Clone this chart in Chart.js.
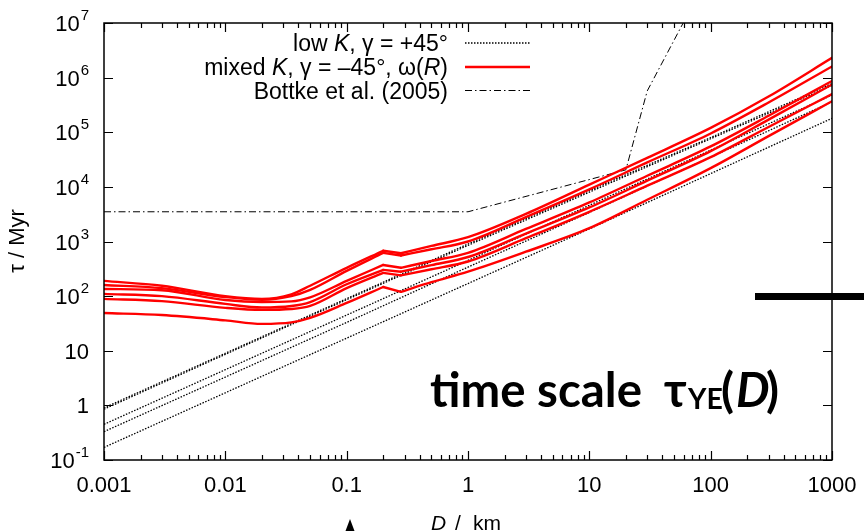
<!DOCTYPE html>
<html>
<head>
<meta charset="utf-8">
<script src="https://cdn.jsdelivr.net/npm/chart.js@4.4.0/dist/chart.umd.min.js"></script>
<style>
  html, body { margin: 0; padding: 0; background: #fff; }
  canvas { display: block; }
</style>
</head>
<body>
<canvas id="tauChart" width="864" height="532"></canvas>
<script>
const redD = [0.001, 0.003, 0.01, 0.02, 0.035, 0.05, 0.1, 0.2, 0.28, 0.5, 1, 3, 10, 30, 100, 300, 1000];
// mixed K, gamma = -45 deg, omega(R)  (tau in Myr)
const red1 = [190, 155, 100, 89, 108, 155, 330, 676, 610, 830, 1200, 3200, 11000, 34000, 120000, 450000, 2300000];
const red2 = [160, 140, 96, 86, 100, 130, 290, 620, 555, 720, 1000, 2800, 9000, 28000, 95000, 350000, 1600000];
const red3 = [135, 128, 85, 78, 80, 95, 190, 372, 330, 440, 620, 1700, 5200, 16000, 55000, 200000, 870000];
const red4 = [110, 100, 72, 62, 66, 78, 165, 302, 280, 370, 520, 1400, 4200, 13000, 45000, 170000, 750000];
const red5 = [89, 81, 61, 56, 58, 66, 140, 266, 240, 310, 430, 1150, 3500, 10500, 35000, 125000, 500000];
const red6 = [49, 45, 36, 31, 33, 40, 75, 147, 120, 180, 280, 650, 1750, 5800, 22000, 85000, 370000];
// index of the two kinks in redD (0.2 and 0.28 km)
const kinkA = 7;
const kinkB = 8;

// low K, gamma = +45 deg
const lowD = [0.001, 0.01, 0.1, 1, 10, 100, 1000];
const low1 = [0.9, 9, 90, 900, 8500, 80000, 780000];
const low2 = [0.85, 8.6, 86, 850, 8000, 76000, 720000];
const low3 = [0.45, 4.5, 45, 450, 4600, 47000, 480000];
const low4 = [0.33, 3.3, 33, 340, 3400, 35000, 360000];
const low5 = [0.17, 1.7, 17, 170, 1700, 17500, 180000];

// Bottke et al. (2005)
const bottkeD = [0.001, 1, 20, 30, 70];
const bottkeTau = [3500, 3500, 20500, 570000, 20000000];

// axis ticks
const xTickValues = [0.001, 0.01, 0.1, 1, 10, 100, 1000];
const xTickLabels = ['0.001', '0.01', '0.1', '1', '10', '100', '1000'];
const yTickValues = [0.1, 1, 10, 100, 1000, 10000, 100000, 1000000, 10000000];
const yTickBase = ['10', '1', '10', '10', '10', '10', '10', '10', '10'];
const yTickExp = ['-1', '', '', '2', '3', '4', '5', '6', '7'];

const SANS = '"Liberation Sans", Arial, Helvetica, sans-serif';
const RED = '#ff0000';

function pts(xs, ys, from, to) {
  const out = [];
  for (let i = from; i <= to; i++) out.push({ x: xs[i], y: ys[i] });
  return out;
}

const datasets = [];
[red1, red2, red3, red4, red5, red6].forEach(r => {
  // smooth piece, straight kink piece, smooth piece
  const pieces = [[0, kinkA, true], [kinkA, kinkB, false], [kinkB, redD.length - 1, true]];
  pieces.forEach(p => {
    datasets.push({
      data: pts(redD, r, p[0], p[1]),
      borderColor: RED,
      borderWidth: 2.4,
      borderCapStyle: 'round',
      cubicInterpolationMode: p[2] ? 'monotone' : 'default',
      tension: 0
    });
  });
});
[low1, low2, low3, low4, low5].forEach(l => {
  datasets.push({
    data: pts(lowD, l, 0, lowD.length - 1),
    borderColor: '#000',
    borderWidth: 1.3,
    borderDash: [1.5, 1.5]
  });
});
datasets.push({
  data: pts(bottkeD, bottkeTau, 0, bottkeD.length - 1),
  borderColor: '#000',
  borderWidth: 1,
  borderDash: [7, 3, 1.5, 3]
});

// draw a run of text pieces (some italic)
function richWidth(ctx, parts, size) {
  let w = 0;
  parts.forEach(p => {
    ctx.font = (p.it ? 'italic ' : '') + size + 'px ' + SANS;
    w += ctx.measureText(p.t).width;
  });
  return w;
}
function drawRich(ctx, parts, x, y, size) {
  parts.forEach(p => {
    ctx.font = (p.it ? 'italic ' : '') + size + 'px ' + SANS;
    ctx.fillText(p.t, x, y);
    x += ctx.measureText(p.t).width;
  });
}

const legendRows = [
  { parts: [{ t: 'low ' }, { t: 'K', it: true }, { t: ', γ = +45°' }], kind: 'dot' },
  { parts: [{ t: 'mixed ' }, { t: 'K', it: true }, { t: ', γ = –45°, ω(' }, { t: 'R', it: true }, { t: ')' }], kind: 'red' },
  { parts: [{ t: 'Bottke et al. (2005)' }], kind: 'dashdot' }
];

const framePlugin = {
  id: 'gnuplotFrame',
  afterDatasetsDraw(chart) {
    const ctx = chart.ctx;
    const a = chart.chartArea;
    const xs = chart.scales.x;
    const ys = chart.scales.y;
    ctx.save();
    ctx.strokeStyle = '#000';
    ctx.lineWidth = 1.5;
    ctx.strokeRect(a.left, a.top, a.right - a.left, a.bottom - a.top);

    // inward ticks on all four sides
    ctx.lineWidth = 1.2;
    ctx.beginPath();
    xTickValues.forEach(v => {
      const px = Math.round(xs.getPixelForValue(v)) + 0.5;
      ctx.moveTo(px, a.bottom); ctx.lineTo(px, a.bottom - 9);
      ctx.moveTo(px, a.top); ctx.lineTo(px, a.top + 9);
      if (v < 1000) {
        for (let m = 2; m <= 9; m++) {
          const q = Math.round(xs.getPixelForValue(v * m)) + 0.5;
          ctx.moveTo(q, a.bottom); ctx.lineTo(q, a.bottom - 5);
          ctx.moveTo(q, a.top); ctx.lineTo(q, a.top + 5);
        }
      }
    });
    yTickValues.forEach(v => {
      const py = Math.round(ys.getPixelForValue(v)) + 0.5;
      ctx.moveTo(a.left, py); ctx.lineTo(a.left + 9, py);
      ctx.moveTo(a.right, py); ctx.lineTo(a.right - 9, py);
    });
    ctx.stroke();

    // tick labels
    ctx.fillStyle = '#000';
    ctx.textBaseline = 'alphabetic';
    ctx.font = '22px ' + SANS;
    ctx.textAlign = 'center';
    xTickValues.forEach((v, i) => {
      ctx.fillText(xTickLabels[i], xs.getPixelForValue(v), 492);
    });
    ctx.textAlign = 'left';
    yTickValues.forEach((v, i) => {
      const py = ys.getPixelForValue(v);
      ctx.font = '22px ' + SANS;
      const wb = ctx.measureText(yTickBase[i]).width;
      ctx.font = '15px ' + SANS;
      const we = yTickExp[i] ? ctx.measureText(yTickExp[i]).width + 1 : 0;
      const x0 = 89 - wb - we;
      ctx.font = '22px ' + SANS;
      ctx.fillText(yTickBase[i], x0, py + 8);
      if (yTickExp[i]) {
        ctx.font = '15px ' + SANS;
        ctx.fillText(yTickExp[i], x0 + wb + 1, py - 3);
      }
    });

    // axis titles
    ctx.font = 'italic 21px ' + SANS;
    ctx.fillText('D', 431, 530);
    ctx.font = '21px ' + SANS;
    ctx.fillText('/', 455, 530);
    ctx.fillText('km', 473, 530);
    ctx.save();
    ctx.translate(24, 241);
    ctx.rotate(-Math.PI / 2);
    const yt = [{ t: 'τ / Myr' }];
    const wy = richWidth(ctx, yt, 22);
    drawRich(ctx, yt, -wy / 2, 0, 22);
    ctx.restore();

    // key, gnuplot style: text right aligned, sample to the right
    const rowY = [43, 67, 90.5];
    legendRows.forEach((row, i) => {
      const w = richWidth(ctx, row.parts, 23);
      drawRich(ctx, row.parts, 448 - w, rowY[i] + 8, 23);
      ctx.beginPath();
      if (row.kind === 'dot') {
        ctx.strokeStyle = '#000'; ctx.lineWidth = 1.3; ctx.setLineDash([1.5, 1.5]);
      } else if (row.kind === 'red') {
        ctx.strokeStyle = RED; ctx.lineWidth = 2.4; ctx.setLineDash([]);
      } else {
        ctx.strokeStyle = '#000'; ctx.lineWidth = 1; ctx.setLineDash([7, 3, 1.5, 3]);
      }
      ctx.moveTo(465, rowY[i]); ctx.lineTo(530, rowY[i]);
      ctx.stroke();
    });
    ctx.setLineDash([]);

    // slide overlay: caption, bar and pointer
    const fam = 'Lato, "DejaVu Sans", sans-serif';
    ctx.font = 'bold 100px ' + fam;
    const size = 100 * 212 / ctx.measureText('time scale').width;
    const base = 407;
    ctx.fillStyle = '#000';
    ctx.font = 'bold ' + size + 'px ' + fam;
    ctx.fillText('time scale', 430, base);
    ctx.fillText('τ', 664, base);
    ctx.font = 'bold ' + (size * 0.6) + 'px ' + fam;
    ctx.fillText('YE', 688, base + 2);
    ctx.font = 'bold ' + size + 'px ' + fam;
    ctx.fillText('(', 721, base);
    ctx.font = 'italic bold ' + size + 'px ' + fam;
    ctx.fillText('D', 736, base);
    ctx.font = 'bold ' + size + 'px ' + fam;
    ctx.fillText(')', 766, base);

    ctx.fillRect(755, 293, 109, 7);
    ctx.beginPath();
    ctx.moveTo(350, 519); ctx.lineTo(354.5, 531); ctx.lineTo(345.5, 531);
    ctx.closePath();
    ctx.fill();
    ctx.restore();
  }
};

new Chart(document.getElementById('tauChart'), {
  type: 'line',
  data: { datasets: datasets },
  options: {
    responsive: false,
    animation: false,
    devicePixelRatio: 1,
    layout: { padding: { left: 104, top: 23, right: 32, bottom: 72 } },
    elements: { point: { radius: 0 }, line: { fill: false } },
    plugins: { legend: { display: false }, tooltip: { enabled: false } },
    scales: {
      x: { type: 'logarithmic', min: 0.001, max: 1000, display: false },
      y: { type: 'logarithmic', min: 0.1, max: 10000000, display: false }
    }
  },
  plugins: [framePlugin]
});
</script>
</body>
</html>
